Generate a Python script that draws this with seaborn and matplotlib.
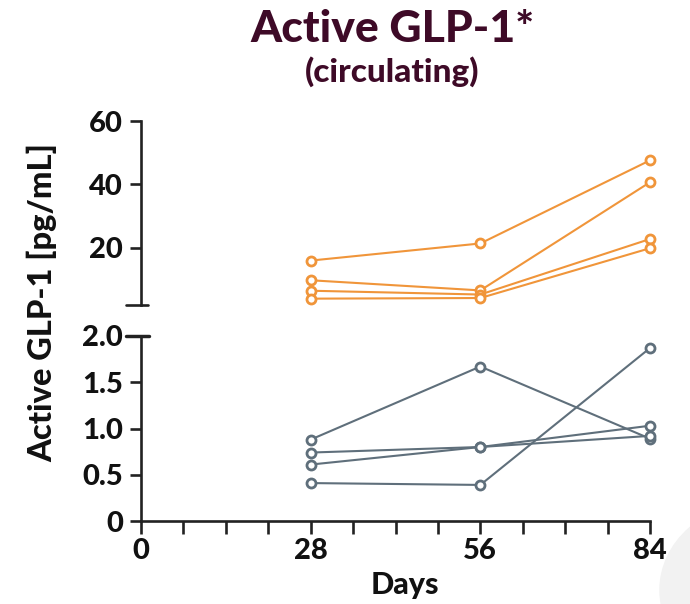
import numpy as np
import pandas as pd
import matplotlib
matplotlib.use("Agg")
import matplotlib.pyplot as plt
import seaborn as sns
from matplotlib.patches import Circle

# ---- data ----
days = [28, 56, 84]
# high group (pg/mL), one list per subject
high_s1 = [16.0, 21.4, 47.6]
high_s2 = [9.8, 6.6, 40.7]
high_s3 = [6.5, 5.3, 22.8]
high_s4 = [4.0, 4.2, 19.9]
# low group (pg/mL), one list per subject
low_s1 = [0.88, 1.67, 0.89]
low_s2 = [0.74, 0.80, 1.03]
low_s3 = [0.61, 0.80, 0.92]
low_s4 = [0.41, 0.39, 1.87]

x_ticks = [0, 28, 56, 84]
top_ticks = [20, 40, 60]
bot_ticks = [0, 0.5, 1.0, 1.5, 2.0]
bot_ticklabels = ["0", "0.5", "1.0", "1.5", "2.0"]

title = "Active GLP-1*"
subtitle = "(circulating)"
ylabel = "Active GLP-1 [pg/mL]"
xlabel = "Days"

orange = "#F0953A"
grey = "#5F6F7B"
maroon = "#3E0A27"

def long_df(series):
    rows = []
    for i, s in enumerate(series):
        for d, v in zip(days, s):
            rows.append({"day": d, "value": v, "subject": f"s{i}"})
    return pd.DataFrame(rows)

df_high = long_df([high_s1, high_s2, high_s3, high_s4])
df_low = long_df([low_s1, low_s2, low_s3, low_s4])

sns.set_theme(style="ticks")
plt.rcParams["font.family"] = ["Lato", "DejaVu Sans"]
plt.rcParams["font.weight"] = "black"

W, H = 690, 604
fig = plt.figure(figsize=(W / 100, H / 100), dpi=100)

# faint decorative circle bottom-right
fig.patches.append(Circle((760 / W, 1 - 590 / H), 0.145, transform=fig.transFigure,
                          color="#F2F2F2", zorder=0))

left = 141 / W
width = (650 - 141) / W
ax_top = fig.add_axes([left, 1 - 305 / H, width, (305 - 121) / H])
ax_bot = fig.add_axes([left, 1 - 521 / H, width, (521 - 336) / H])

lw_spine = 1.9
for ax, df, col in [(ax_top, df_high, orange), (ax_bot, df_low, grey)]:
    ax.patch.set_alpha(0)
    sns.lineplot(data=df, x="day", y="value", units="subject", estimator=None,
                 color=col, marker="o", markersize=6.5, markerfacecolor="white",
                 markeredgecolor=col, markeredgewidth=2.0, linewidth=1.5,
                 ax=ax, legend=False, clip_on=False)
    ax.set_xlim(0, 84)
    ax.set_xlabel("")
    ax.set_ylabel("")
    for s in ["top", "right"]:
        ax.spines[s].set_visible(False)
    for s in ["left", "bottom"]:
        ax.spines[s].set_linewidth(lw_spine)
        ax.spines[s].set_color("#222222")
    ax.tick_params(axis="both", which="both", width=lw_spine, color="#222222",
                   length=8, labelsize=21, pad=5)

# top panel
ax_top.set_ylim(2, 60)
ax_top.set_yticks(top_ticks)
ax_top.spines["bottom"].set_visible(False)
ax_top.tick_params(axis="x", which="both", bottom=False, labelbottom=False)
ax_top.plot([-2.5, 1.2], [2, 2], color="#222222", lw=lw_spine, clip_on=False)

# bottom panel
ax_bot.set_ylim(0, 2)
ax_bot.set_yticks(bot_ticks)
ax_bot.set_yticklabels(bot_ticklabels)
ax_bot.set_xticks(x_ticks)
ax_bot.set_xticks(np.arange(0, 85, 7), minor=True)
ax_bot.tick_params(axis="x", which="both", length=9, pad=3)
ax_bot.plot([-2.5, 1.4], [2, 2], color="#222222", lw=lw_spine * 1.3, clip_on=False)

for ax in (ax_top, ax_bot):
    for lab in ax.get_xticklabels() + ax.get_yticklabels():
        lab.set_fontweight("black")
        lab.set_color("#111111")

fig.text(392 / W, 1 - 29 / H, title, ha="center", va="center", fontsize=32,
         fontweight="black", color=maroon)
fig.text(392 / W, 1 - 72 / H, subtitle, ha="center", va="center", fontsize=24,
         fontweight="black", color=maroon)
fig.text(42 / W, 1 - 302 / H, ylabel, ha="center", va="center", rotation=90,
         fontsize=23.5, fontweight="black", color="#111111")
fig.text(405 / W, 1 - 585 / H, xlabel, ha="center", va="center", fontsize=22,
         fontweight="black", color="#111111")

fig.savefig("out.png", dpi=100)
